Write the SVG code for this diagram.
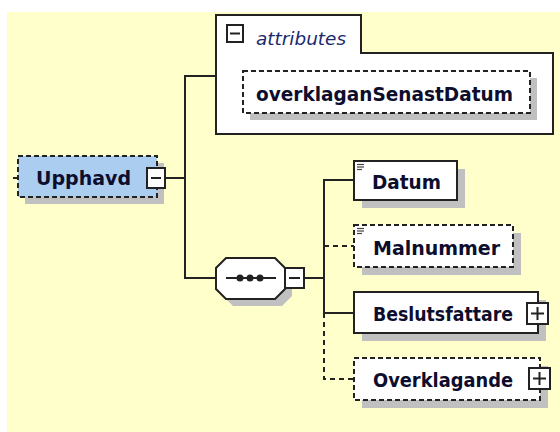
<svg xmlns="http://www.w3.org/2000/svg" width="560" height="432" viewBox="0 0 560 432">
<style>
.bg{fill:#ffffcc}
.sh{fill:#c0c0c0}
.box{fill:#ffffff;stroke:#222;stroke-width:2}
.dash{stroke-dasharray:5,3}
.ln{fill:none;stroke:#222;stroke-width:2}
.lnd{fill:none;stroke:#222;stroke-width:2;stroke-dasharray:5,4}
.lbl{font-family:"DejaVu Sans",sans-serif;font-weight:bold;font-size:20px;fill:#0d0d2e}
.ico{fill:#ffffff;stroke:#222;stroke-width:2}
.icl{stroke:#222;stroke-width:2}
.doc{stroke:#444;stroke-width:1.2}
</style>
<rect class="bg" x="7" y="12" width="553" height="420"/>
<g id="connectors">
<line class="ln" x1="13" y1="178" x2="18" y2="178"/>
<line class="ln" x1="165" y1="178" x2="185" y2="178"/>
<polyline class="ln" points="216,76 185,76 185,278 216,278"/>
<line class="ln" x1="304" y1="278" x2="324" y2="278"/>
<polyline class="ln" points="354,180 324,180 324,313 354,313"/>
<line class="lnd" x1="324" y1="246" x2="354" y2="246"/>
<polyline class="lnd" points="324,313 324,379 354,379"/>
</g>
<g id="Upphavd">
<rect class="sh" x="25" y="163" width="139" height="41"/>
<rect class="box dash" x="18" y="156" width="139" height="41" style="fill:#abcdf0"/>
<text class="lbl" x="36" y="185" textLength="95" lengthAdjust="spacingAndGlyphs">Upphavd</text>
<rect class="ico" x="147" y="168" width="18" height="20"/>
<line class="icl" x1="151" y1="178" x2="161" y2="178"/>
</g>
<g id="attributes">
<path class="box" d="M216,134 V15 H361 V53 H553 V134 Z"/>
<rect class="ico" x="227" y="25" width="16" height="17"/>
<line class="icl" x1="230" y1="33.5" x2="240" y2="33.5"/>
<text x="256" y="45" style="font-family:'DejaVu Sans',sans-serif;font-style:italic;font-size:18.5px;fill:#1a2a6e" textLength="90" lengthAdjust="spacingAndGlyphs">attributes</text>
</g>
<g id="overklaganSenastDatum">
<rect class="sh" x="250" y="78" width="287" height="42"/>
<rect class="box dash" x="243" y="71" width="287" height="42"/>
<text class="lbl" x="256" y="101" textLength="257" lengthAdjust="spacingAndGlyphs">overklaganSenastDatum</text>
</g>
<g id="sequence">
<polygon class="sh" points="233,265 282,265 292,275 292,296 282,306 233,306 223,296 223,275"/>
<polygon class="box" points="226,258 275,258 285,268 285,289 275,299 226,299 216,289 216,268"/>
<line class="ln" x1="226" y1="278" x2="276" y2="278"/>
<circle cx="240" cy="278" r="3.5" fill="#222"/>
<circle cx="250" cy="278" r="3.5" fill="#222"/>
<circle cx="260" cy="278" r="3.5" fill="#222"/>
<rect class="ico" x="285" y="268" width="19" height="20"/>
<line class="icl" x1="289" y1="278" x2="300" y2="278"/>
</g>
<g id="Datum">
<rect class="sh" x="362" y="169" width="103" height="39"/>
<rect class="box" x="354" y="161" width="103" height="39"/>
<line class="doc" x1="357" y1="164.5" x2="364" y2="164.5"/>
<line class="doc" x1="357" y1="167" x2="364" y2="167"/>
<line class="doc" x1="357" y1="169.5" x2="362" y2="169.5"/>
<text class="lbl" x="372" y="189" textLength="69" lengthAdjust="spacingAndGlyphs">Datum</text>
</g>
<g id="Malnummer">
<rect class="sh" x="362" y="233" width="159" height="42"/>
<rect class="box dash" x="354" y="225" width="159" height="42"/>
<line class="doc" x1="357" y1="228.5" x2="364" y2="228.5"/>
<line class="doc" x1="357" y1="231" x2="364" y2="231"/>
<line class="doc" x1="357" y1="233.5" x2="362" y2="233.5"/>
<text class="lbl" x="373" y="255" textLength="127" lengthAdjust="spacingAndGlyphs">Malnummer</text>
</g>
<g id="Beslutsfattare">
<rect class="sh" x="362" y="300" width="184" height="41"/>
<rect class="box" x="354" y="292" width="184" height="41"/>
<text class="lbl" x="373" y="321" textLength="140" lengthAdjust="spacingAndGlyphs">Beslutsfattare</text>
<rect class="ico" x="527" y="303" width="21" height="21"/>
<line class="icl" x1="531" y1="313.5" x2="544" y2="313.5"/>
<line class="icl" x1="537.5" y1="307" x2="537.5" y2="320"/>
</g>
<g id="Overklagande">
<rect class="sh" x="362" y="366" width="186" height="42"/>
<rect class="box dash" x="354" y="358" width="186" height="42"/>
<text class="lbl" x="373" y="387" textLength="140" lengthAdjust="spacingAndGlyphs">Overklagande</text>
<rect class="ico" x="529" y="368" width="21" height="21"/>
<line class="icl" x1="533" y1="378.5" x2="546" y2="378.5"/>
<line class="icl" x1="539.5" y1="372" x2="539.5" y2="385"/>
</g>
</svg>
